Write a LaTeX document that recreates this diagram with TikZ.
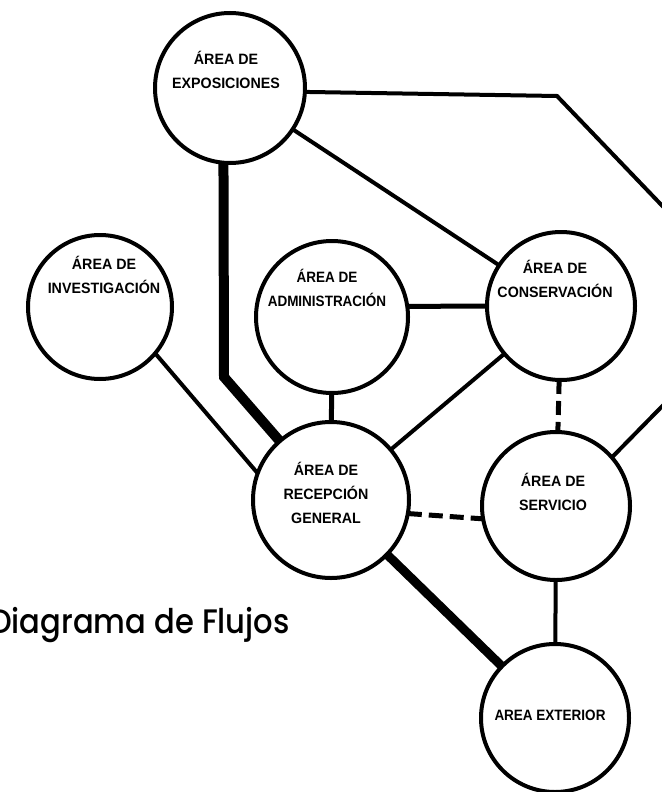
\documentclass[tikz,border=0pt]{standalone}
\usepackage{fontspec}
\setmainfont{Liberation Sans}
\newfontfamily\titlefont{Poppins Medium}
\begin{document}
\begin{tikzpicture}[x=1pt,y=-1pt,
  area/.style={circle, draw, line width=4pt, inner sep=0pt, outer sep=0pt},
  lbl/.style={font=\bfseries\fontsize{15}{24}\selectfont, align=center, inner sep=0pt},
  link/.style={line width=4pt},
  heavy/.style={line width=10pt},
  dlink/.style={line width=5pt, dash pattern=on 14pt off 7pt}]
\useasboundingbox (0,0) rectangle (661,792);

% areas
\node[area, minimum size=150pt] (expo) at (230,88) {};
\node[area, minimum size=144pt] (inv) at (100,307) {};
\node[area, minimum size=152pt] (adm) at (332,317) {};
\node[area, minimum size=148pt] (cons) at (561,306) {};
\node[area, minimum size=156pt] (rec) at (331,500) {};
\node[area, minimum size=148pt] (serv) at (556,506) {};
\node[area, minimum size=148pt] (ext) at (555,718) {};

% labels
\node[lbl, xscale=0.95, transform shape] (texpo) at (226,70) {ÁREA DE\\EXPOSICIONES};
\node[lbl, xscale=0.95, transform shape] (tinv) at (104,275) {ÁREA DE\\INVESTIGACIÓN};
\node[lbl, xscale=0.9, transform shape] (tadm) at (327,288) {ÁREA DE\\ADMINISTRACIÓN};
\node[lbl, xscale=0.95, transform shape] (tcons) at (555,279) {ÁREA DE\\CONSERVACIÓN};
\node[lbl, xscale=0.95, transform shape] (trec) at (326,493) {ÁREA DE\\RECEPCIÓN\\GENERAL};
\node[lbl, xscale=0.95, transform shape] (tserv) at (553,492) {ÁREA DE\\SERVICIO};
\node[lbl, xscale=0.9, transform shape] (text) at (550,715) {AREA EXTERIOR};

% helper coordinates
\coordinate (bend) at (224,377);
\coordinate (tr) at (557,96);
\coordinate (outa) at (672,216);
\coordinate (outb) at (682,386);

% connectors
\draw[link] (expo.-3) -- (tr) -- (outa);
\draw[link] (expo) -- (cons);
\draw[heavy] (expo.265) -- (bend) -- (rec);
\draw[link] (inv.-40) -- (rec.160);
\draw[line width=5pt] (adm.8) -- (cons.180);
\draw[line width=5pt] (adm) -- (rec);
\draw[link] (cons) -- (rec);
\draw[dlink] (cons) -- (serv);
\draw[dlink] (rec.-10) -- (serv.190);
\draw[line width=9pt] (rec) -- (ext);
\draw[link] (serv) -- (ext);
\draw[link] (serv.41) -- (outb);

% title
\node[font=\titlefont\fontsize{34}{40}\selectfont, anchor=base west, inner sep=0pt, xscale=0.9, transform shape] (title) at (-10,633) {Diagrama de Flujos};
\end{tikzpicture}
\end{document}
